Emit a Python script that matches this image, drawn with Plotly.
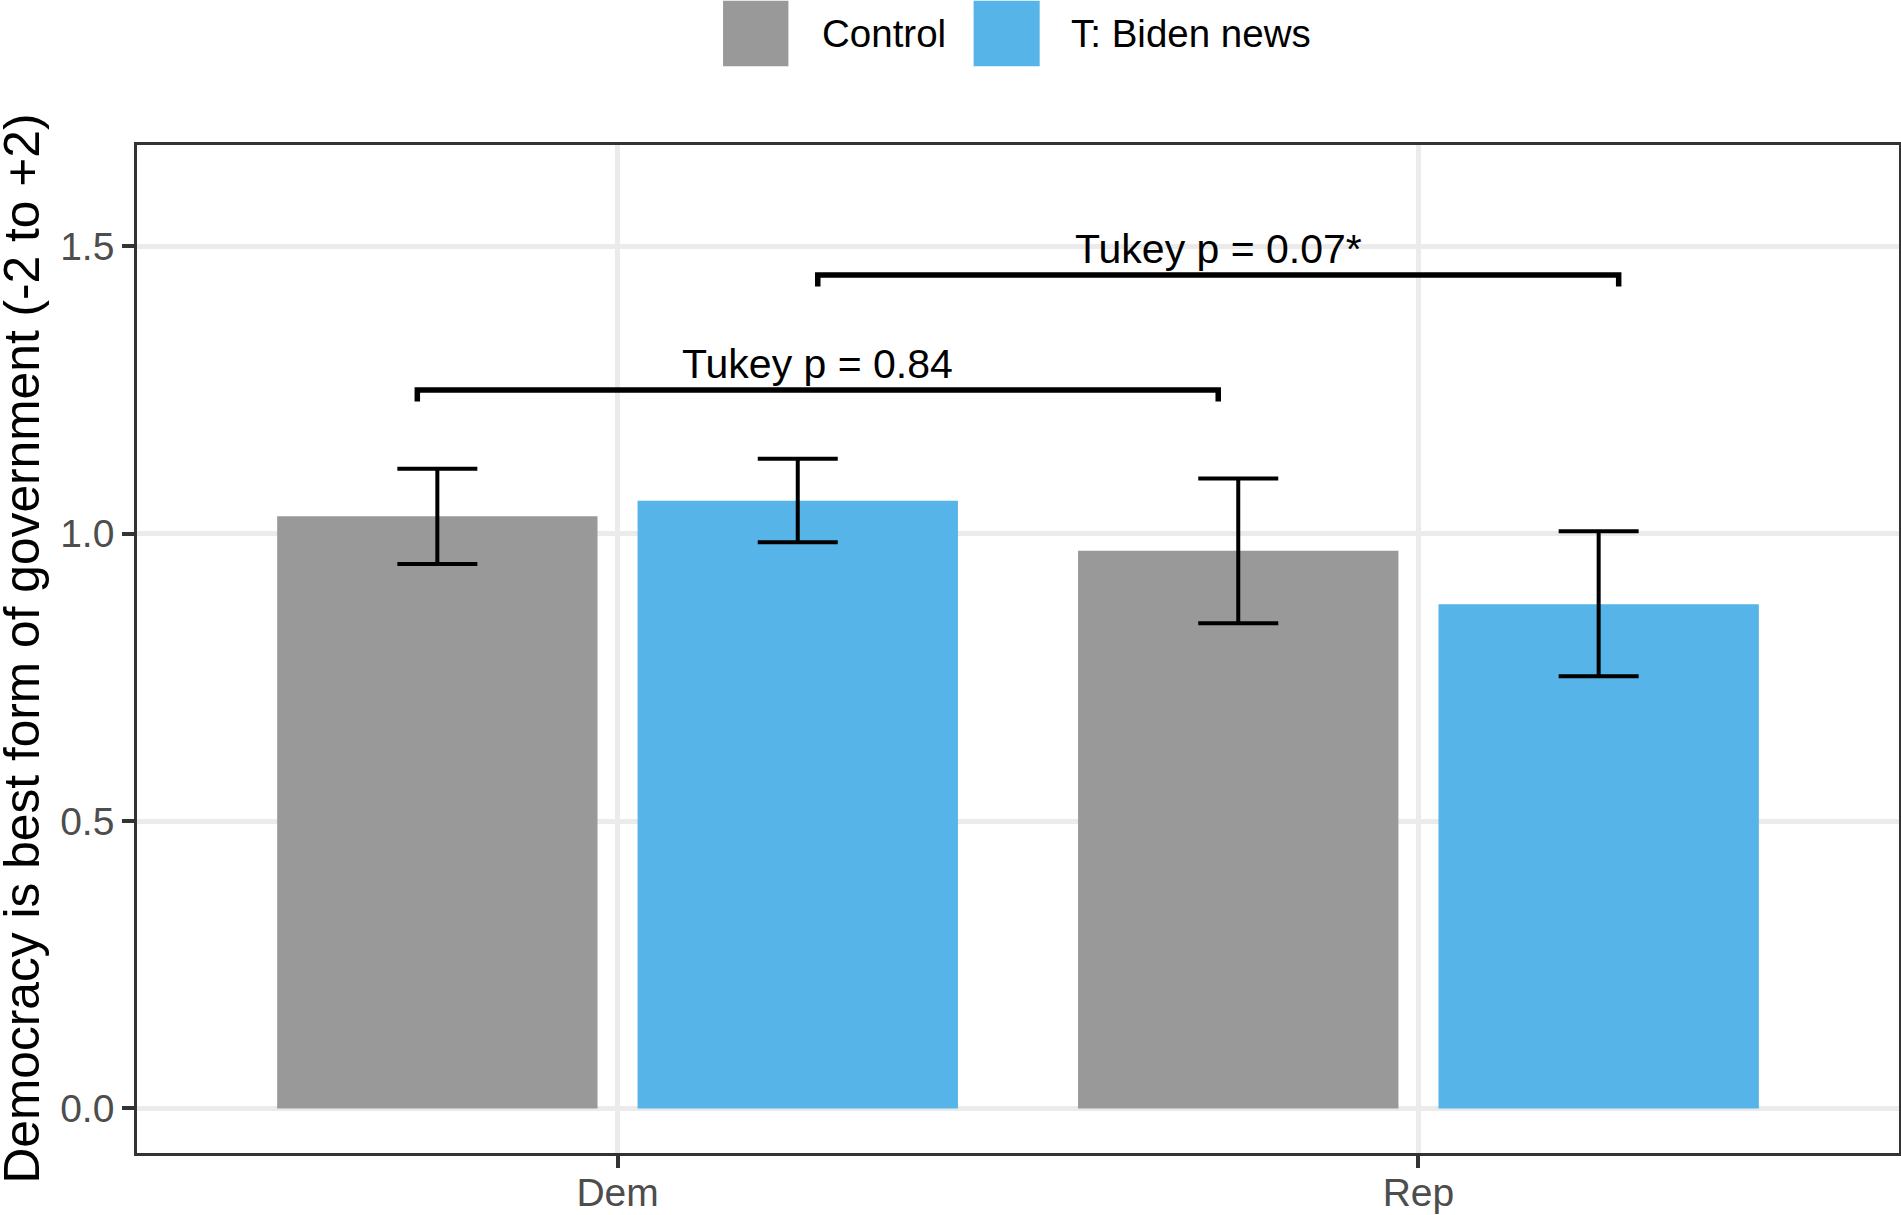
import plotly.graph_objects as go

# ---- data ----
parties = ["Dem", "Rep"]
party_pos = [1, 2]
groups = ["Control", "T: Biden news"]
colors = ["#999999", "#56B4E9"]
means_control = [1.030, 0.970]
means_treat = [1.057, 0.877]
err_up_control = [0.083, 0.126]
err_dn_control = [0.083, 0.126]
err_up_treat = [0.073, 0.127]
err_dn_treat = [0.072, 0.125]

# Tukey comparison brackets: (x start, x end, y level, label)
bracket_x0 = [0.75, 1.25]
bracket_x1 = [1.75, 2.25]
bracket_y = [1.25, 1.45]
bracket_labels = ["Tukey p = 0.84", "Tukey p = 0.07*"]

y_ticks = [0.0, 0.5, 1.0, 1.5]
y_title = "Democracy is best form of government (-2 to +2)"

FONT = "Liberation Sans, Arial, sans-serif"

fig = go.Figure()

series = [
    (groups[0], means_control, err_up_control, err_dn_control, colors[0]),
    (groups[1], means_treat, err_up_treat, err_dn_treat, colors[1]),
]
for name, vals, eu, ed, col in series:
    fig.add_trace(go.Bar(
        x=party_pos, y=vals, name=name,
        marker=dict(color=col, line=dict(width=0)),
        error_y=dict(type="data", array=eu, arrayminus=ed, symmetric=False,
                     color="black", thickness=4, width=40),
        showlegend=False,
    ))

tick_drop = 0.02
for x0, x1, y, lab in zip(bracket_x0, bracket_x1, bracket_y, bracket_labels):
    fig.add_trace(go.Scatter(
        x=[x0, x0, x1, x1], y=[y - tick_drop, y, y, y - tick_drop],
        mode="lines", line=dict(color="black", width=5.5),
        showlegend=False, hoverinfo="skip",
    ))
    fig.add_annotation(x=(x0 + x1) / 2, y=y, text=lab, showarrow=False,
                       xref="x", yref="y", xanchor="center", yanchor="bottom",
                       yshift=1, font=dict(family=FONT, size=41, color="black"))

# y axis title
fig.add_annotation(x=-0.0655, y=0.5, xref="paper", yref="paper", text=y_title,
                   textangle=-90, showarrow=False, xanchor="center", yanchor="middle",
                   font=dict(family=FONT, size=49.7, color="black"))

# custom legend (large square keys as in the reference)
key_x = [(0.3326, 0.3697), (0.4748, 0.5123)]
text_x = [0.3876, 0.5292]
for (kx0, kx1), tx, name, col in zip(key_x, text_x, groups, colors):
    fig.add_shape(type="rect", xref="paper", yref="paper", x0=kx0, x1=kx1,
                  y0=1.0782, y1=1.1431, fillcolor=col, line=dict(width=0))
    fig.add_annotation(x=tx, y=1.1107, xref="paper", yref="paper", text=name,
                       showarrow=False, xanchor="left", yanchor="middle",
                       font=dict(family=FONT, size=38.5, color="black"))

axis_common = dict(
    showline=True, mirror=True, linecolor="#333333", linewidth=2.7,
    ticks="outside", ticklen=12, tickwidth=4, tickcolor="#333333",
    showgrid=True, gridcolor="#EBEBEB", gridwidth=4.5,
    tickfont=dict(family=FONT, size=39, color="#4D4D4D"),
    zeroline=False, automargin=False,
)

fig.update_layout(
    width=1901, height=1215,
    margin=dict(l=137, r=2, t=145, b=62),
    paper_bgcolor="white", plot_bgcolor="white",
    barmode="group", bargap=0.1, bargroupgap=0.1111,
    xaxis=dict(range=[0.4, 2.6], tickvals=party_pos, ticktext=parties,
               ticklabelstandoff=-9, **axis_common),
    yaxis=dict(range=[-0.0775, 1.676], tickvals=y_ticks,
               ticktext=[f"{v:.1f}" for v in y_ticks], **axis_common),
    showlegend=False,
)

fig.write_html("out.html")
